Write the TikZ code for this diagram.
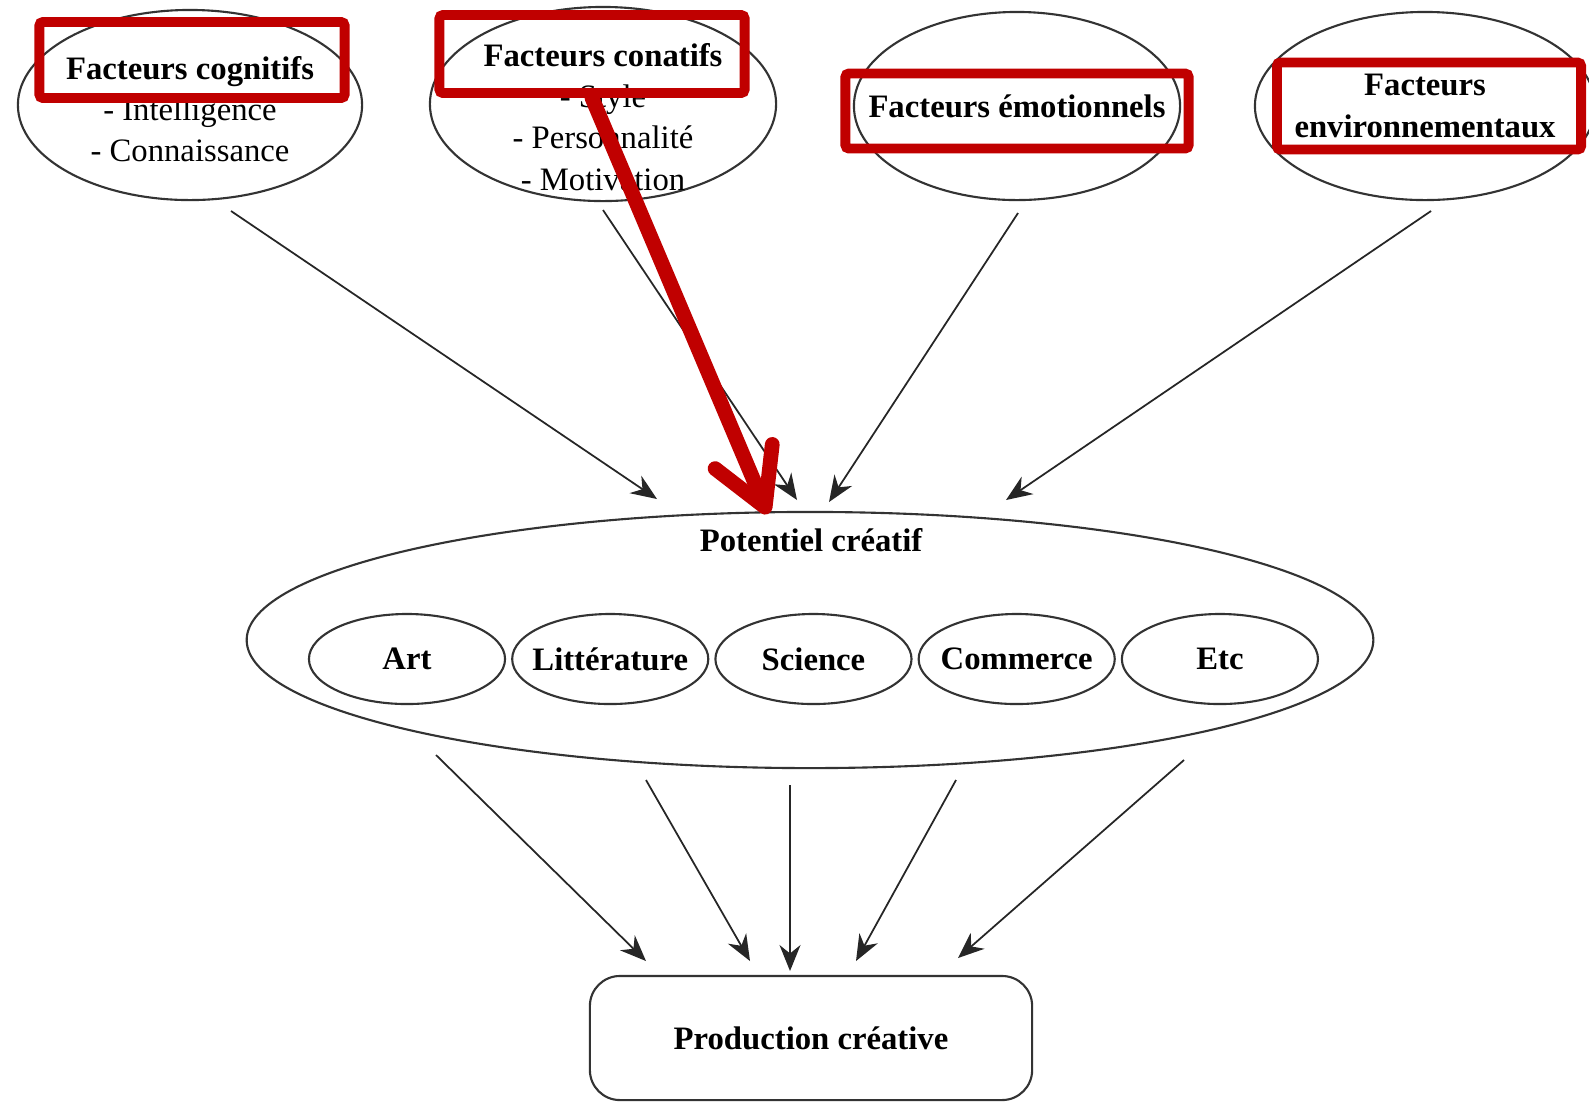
\documentclass[tikz,border=0pt]{standalone}
\usepackage{fontspec}
\setmainfont{Liberation Serif}
\usepackage{xcolor}
\usepackage{tikz}
\usetikzlibrary{shapes, arrows, arrows.meta, positioning, calc}

\definecolor{hlred}{RGB}{192,0,0}

\begin{document}
\begin{tikzpicture}[
        x=0.01cm, y=-0.01cm,
        font=\fontsize{9.3}{11.7}\selectfont,
        factor/.style={ellipse, draw=black!80, line width=0.6pt, inner xsep=-0.4cm, inner ysep=0pt, align=center},
        field/.style={ellipse, draw=black!80, line width=0.6pt, minimum width=1.96cm, minimum height=0.9cm, inner xsep=-0.25cm, inner ysep=0pt, font=\fontsize{9.3}{11.7}\selectfont\bfseries},
        prod/.style={rectangle, draw=black!80, line width=0.6pt, rounded corners=0.3cm, minimum width=4.42cm, minimum height=1.24cm, font=\fontsize{9.3}{11.7}\selectfont\bfseries},
        hl/.style={rectangle, draw=hlred, line width=2.8pt, rounded corners=1pt, inner sep=0pt},
        arrow/.style={-{Stealth[length=2.6mm, width=2.1mm]}, line width=0.5pt, black!85},
        redarrow/.style={-{Straight Barb[length=5.5mm, width=6.2mm, line cap=round, line join=round]}, line width=4.2pt, hlred, line cap=round}
    ]
        \useasboundingbox (0,0) rectangle (1589,1102);

        % premiere ligne : les facteurs
        \node[factor, minimum width=3.44cm, minimum height=1.9cm] (cog) at (190,105) {};
        \node[align=center] (cogTxt) at (190,109) {\textbf{Facteurs cognitifs}\\- Intelligence\\- Connaissance};
        \node[factor, minimum width=3.46cm, minimum height=1.94cm] (conat) at (603,104) {};
        \node[align=center] (conatTxt) at (603,117) {\textbf{Facteurs conatifs}\\- Style\\- Personnalité\\- Motivation};
        \node[factor, minimum width=3.26cm, minimum height=1.88cm, font=\fontsize{9.3}{11.7}\selectfont\bfseries] (emo) at (1017,106) {Facteurs émotionnels};
        \node[factor, minimum width=3.40cm, minimum height=1.88cm, font=\fontsize{9.3}{11.7}\selectfont\bfseries] (env) at (1425,106) {Facteurs\\environnementaux};

        % potentiel creatif et domaines
        \node[ellipse, draw=black!80, line width=0.6pt, minimum width=11.26cm, minimum height=2.56cm] (pot) at (810,640) {};
        \node[font=\fontsize{9.3}{11.7}\selectfont\bfseries] (potLbl) at (811,540) {Potentiel créatif};
        \node[field] (art) at (407,659) {Art};
        \node[field, right=0.05cm of art] (litt) {Littérature};
        \node[field, right=0.05cm of litt] (sci) {Science};
        \node[field, right=0.05cm of sci] (comm) {Commerce};
        \node[field, right=0.05cm of comm] (etc) {Etc};

        % production
        \node[prod] (prodc) at (811,1038) {Production créative};

        % extremites des fleches
        \coordinate (cogOut) at (231,211);
        \coordinate (conatOut) at (603,210);
        \coordinate (emoOut) at (1018,213);
        \coordinate (envOut) at (1431,211);
        \coordinate (potIn1) at (657,499);
        \coordinate (potIn2) at (797,500);
        \coordinate (potIn3) at (829,502);
        \coordinate (potIn4) at (1006,500);
        \coordinate (potOut1) at (436,755);
        \coordinate (potOut2) at (646,780);
        \coordinate (potOut3) at (790,785);
        \coordinate (potOut4) at (956,780);
        \coordinate (potOut5) at (1184,760);
        \coordinate (prodIn1) at (646,961);
        \coordinate (prodIn2) at (750,961);
        \coordinate (prodIn3) at (790,971);
        \coordinate (prodIn4) at (856,961);
        \coordinate (prodIn5) at (958,958);

        % fleches
        \draw[arrow] (cogOut) -- (potIn1);
        \draw[arrow] (conatOut) -- (potIn2);
        \draw[arrow] (emoOut) -- (potIn3);
        \draw[arrow] (envOut) -- (potIn4);
        \draw[arrow] (potOut1) -- (prodIn1);
        \draw[arrow] (potOut2) -- (prodIn2);
        \draw[arrow] (potOut3) -- (prodIn3);
        \draw[arrow] (potOut4) -- (prodIn4);
        \draw[arrow] (potOut5) -- (prodIn5);

        % surlignage rouge
        \node[hl, minimum width=3.05cm, minimum height=0.76cm] (hlCog) at (192,60) {};
        \node[hl, minimum width=3.05cm, minimum height=0.78cm] (hlConat) at (592,54) {};
        \node[hl, minimum width=3.43cm, minimum height=0.75cm] (hlEmo) at (1017,111) {};
        \node[hl, minimum width=3.04cm, minimum height=0.87cm] (hlEnv) at (1429,106) {};
        \coordinate (redTip) at (768,514);
        \draw[redarrow] (hlConat.south) -- (redTip);
    \end{tikzpicture}
\end{document}
